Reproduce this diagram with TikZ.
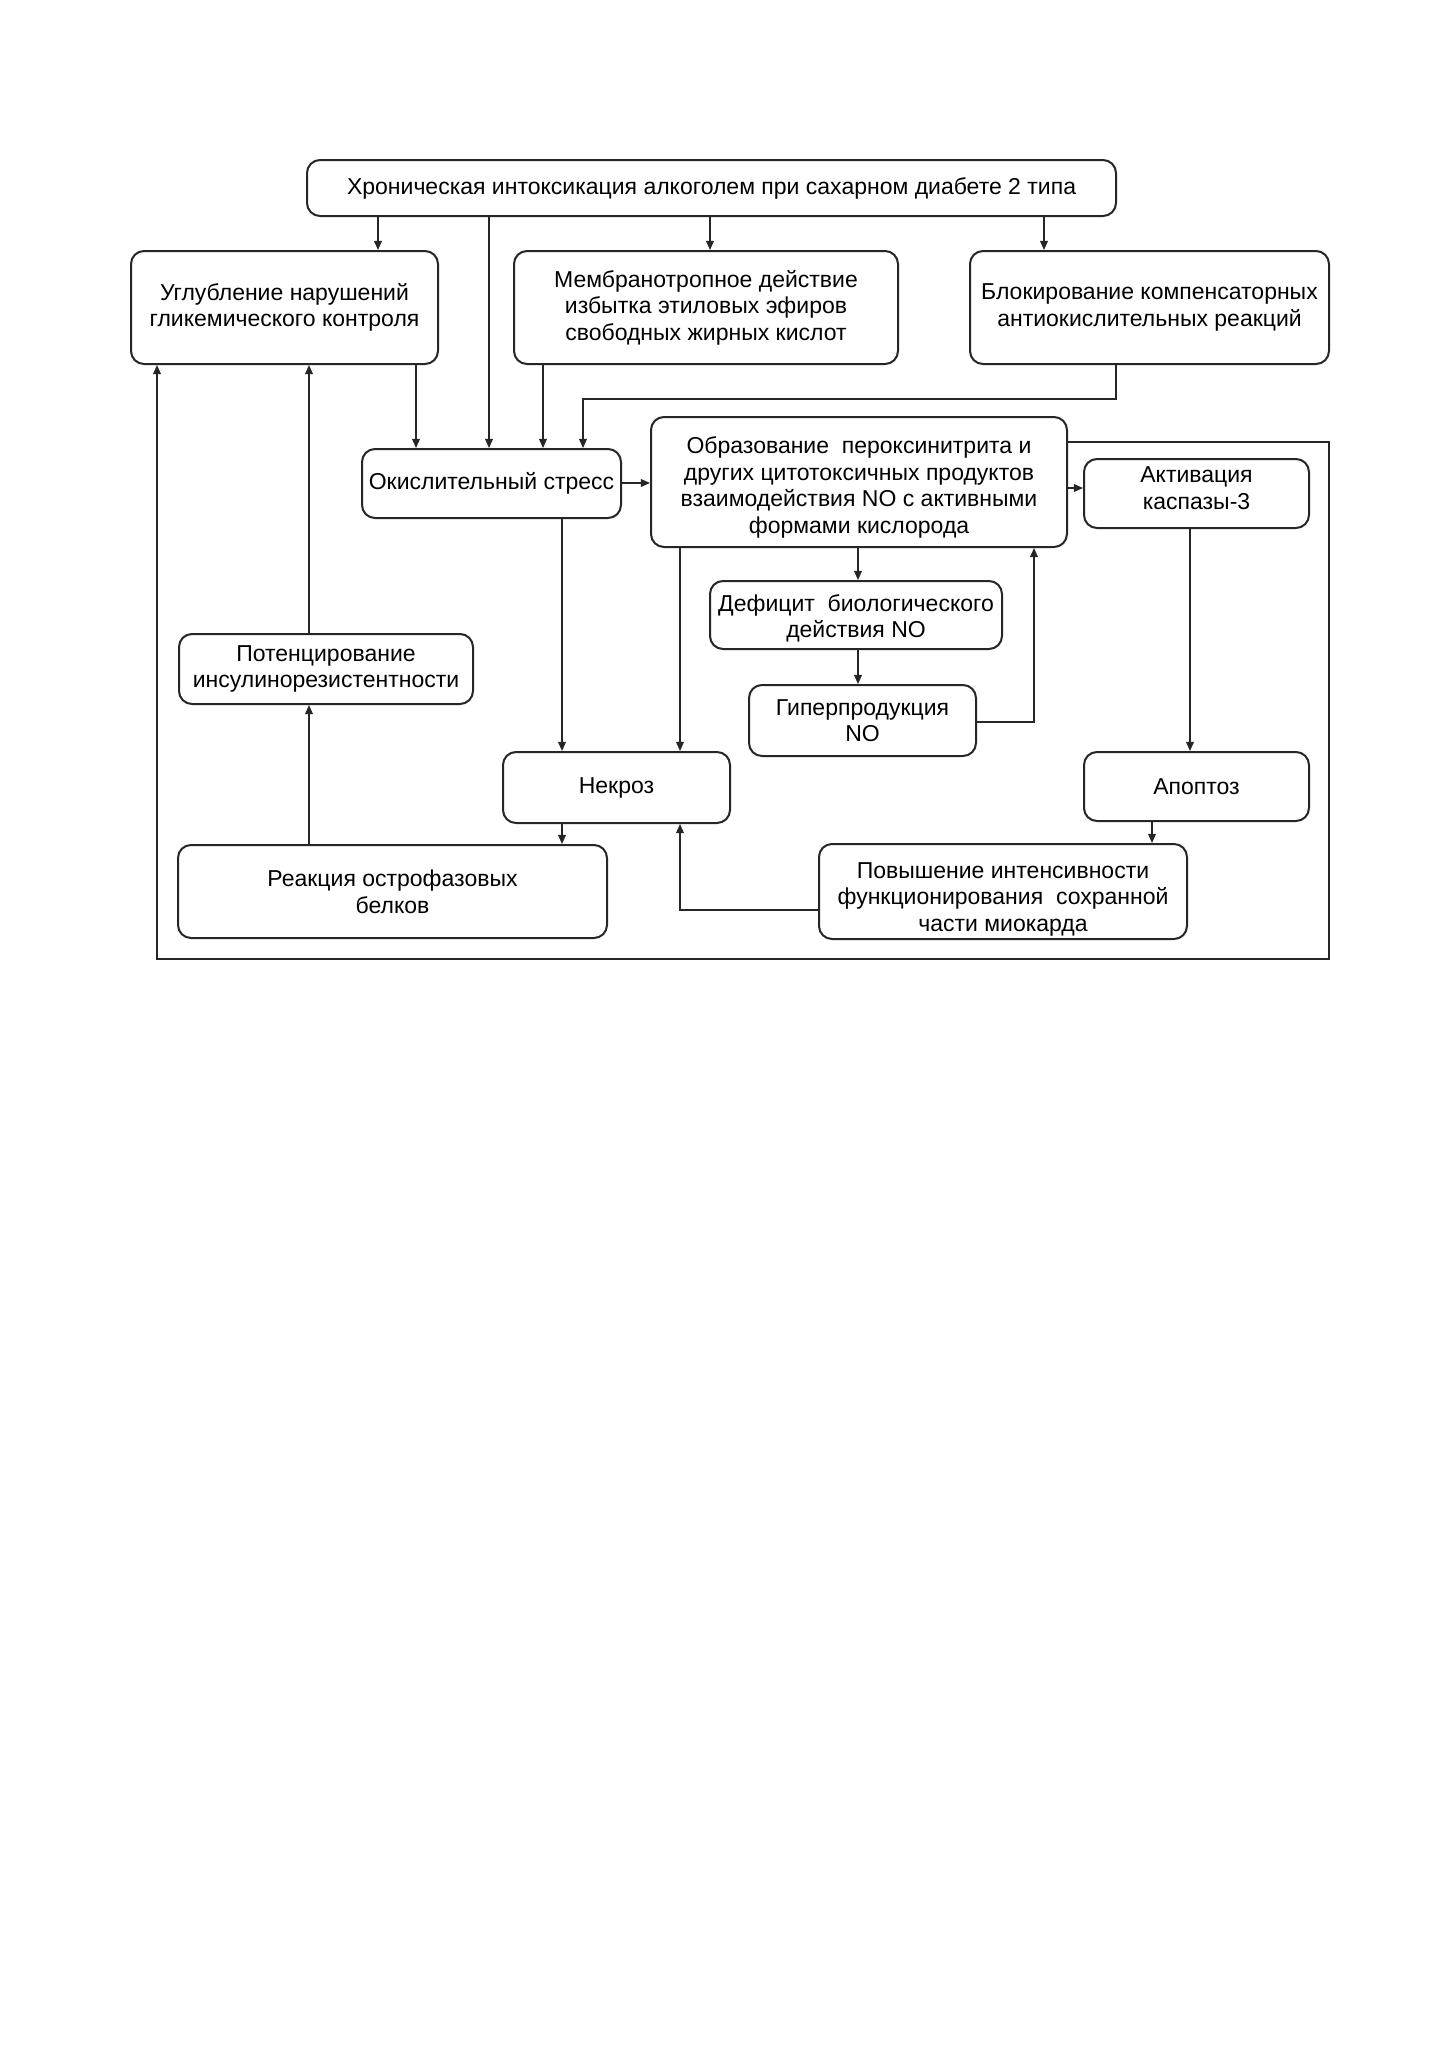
\documentclass[tikz,border=0pt]{standalone}
\usepackage{fontspec}
\setmainfont{Liberation Sans}
\usetikzlibrary{arrows.meta}
\newcommand{\shifttext}[2]{\raisebox{#1}[\height][\depth]{\begin{tabular}{@{}c@{}}#2\end{tabular}}}
\begin{document}
\begin{tikzpicture}[x=0.5pt,y=-0.5pt,
  box/.style={draw=black!85, line width=1pt, rounded corners=6.5pt, align=center, inner sep=0pt, font=\fontsize{11.5}{13.3}\selectfont},
  conn/.style={draw=black!85, line width=0.75pt, -{Triangle[length=4.6pt,width=3.9pt]}},
  ]
\useasboundingbox[fill=white] (0,0) rectangle (1449,2050);
\node[box, minimum width=404.5pt, minimum height=28pt] (top) at (711.5,188) {Хроническая интоксикация алкоголем при сахарном диабете 2 типа};
\node[box, minimum width=153.5pt, minimum height=56.5pt] (glyc) at (284.5,307.5) {Углубление нарушений\\гликемического контроля};
\node[box, minimum width=192pt, minimum height=56.5pt] (memb) at (706,307.5) {Мембранотропное действие\\избытка этиловых эфиров\\свободных жирных кислот};
\node[box, minimum width=179.5pt, minimum height=56.5pt] (block) at (1149.5,307.5) {Блокирование компенсаторных\\антиокислительных реакций};
\node[box, minimum width=129.5pt, minimum height=34.5pt] (ox) at (491.5,483.5) {Окислительный стресс};
\node[box, minimum width=208pt, minimum height=65pt] (perox) at (859,482) {\shifttext{-3pt}{Образование\ \ пероксинитрита и\\других цитотоксичных продуктов\\взаимодействия NO с активными\\формами кислорода}};
\node[box, minimum width=112.5pt, minimum height=34.5pt] (casp) at (1196.5,493.5) {\shifttext{1.5pt}{Активация\\каспазы-3}};
\node[box, minimum width=146pt, minimum height=34pt] (def) at (856,615) {\shifttext{-2pt}{Дефицит\ \ биологического\\действия NO}};
\node[box, minimum width=113.5pt, minimum height=35.5pt] (hyper) at (862.5,720.5) {Гиперпродукция\\NO};
\node[box, minimum width=147pt, minimum height=35pt] (pot) at (326,669) {Потенцирование\\инсулинорезистентности};
\node[box, minimum width=113.5pt, minimum height=35.5pt] (necr) at (616.5,787.5) {Некроз};
\node[box, minimum width=112.5pt, minimum height=34.5pt] (apop) at (1196.5,786.5) {Апоптоз};
\node[box, minimum width=214.5pt, minimum height=46.5pt] (acute) at (392.5,891.5) {Реакция острофазовых\\белков};
\node[box, minimum width=184pt, minimum height=47.5pt] (incr) at (1003,891.5) {\shifttext{-4pt}{Повышение интенсивности\\функционирования\ \ сохранной\\части миокарда}};
\coordinate (bk) at (583,399);
\coordinate (lr) at (1329,959);
% connectors
\draw[conn] (top.south -| 378,0) -- (glyc.north -| 378,0);
\draw[conn] (top.south -| 489,0) -- (ox.north -| 489,0);
\draw[conn] (top.south -| 710,0) -- (memb.north -| 710,0);
\draw[conn] (top.south -| 1044,0) -- (block.north -| 1044,0);
\draw[conn] (glyc.south -| 416,0) -- (ox.north -| 416,0);
\draw[conn] (memb.south -| 543,0) -- (ox.north -| 543,0);
\draw[conn] (block.south -| 1116,0) |- (bk) -- (ox.north -| bk);
\draw[conn] (ox.east |- 0,483) -- (perox.west |- 0,483);
\draw[conn] (ox.south -| 562,0) -- (necr.north -| 562,0);
\draw[conn] (perox.south -| 680,0) -- (necr.north -| 680,0);
\draw[conn] (perox.south -| 858,0) -- (def.north -| 858,0);
\draw[conn] (def.south -| 858,0) -- (hyper.north -| 858,0);
\draw[conn] (hyper.east |- 0,722) -| (perox.south -| 1034,0);
\draw[conn] (perox.east |- 0,488) -- (casp.west |- 0,488);
\draw[conn] (casp.south -| 1190,0) -- (apop.north -| 1190,0);
\draw[conn] (apop.south -| 1152,0) -- (incr.north -| 1152,0);
\draw[conn] (incr.west |- 0,910) -| (necr.south -| 680,0);
\draw[conn] (necr.south -| 562,0) -- (acute.north -| 562,0);
\draw[conn] (acute.north -| 309,0) -- (pot.south -| 309,0);
\draw[conn] (pot.north -| 309,0) -- (glyc.south -| 309,0);
\draw[conn] (perox.east |- 0,442) -| (lr) -| (glyc.south -| 157,0);
\end{tikzpicture}
\end{document}
